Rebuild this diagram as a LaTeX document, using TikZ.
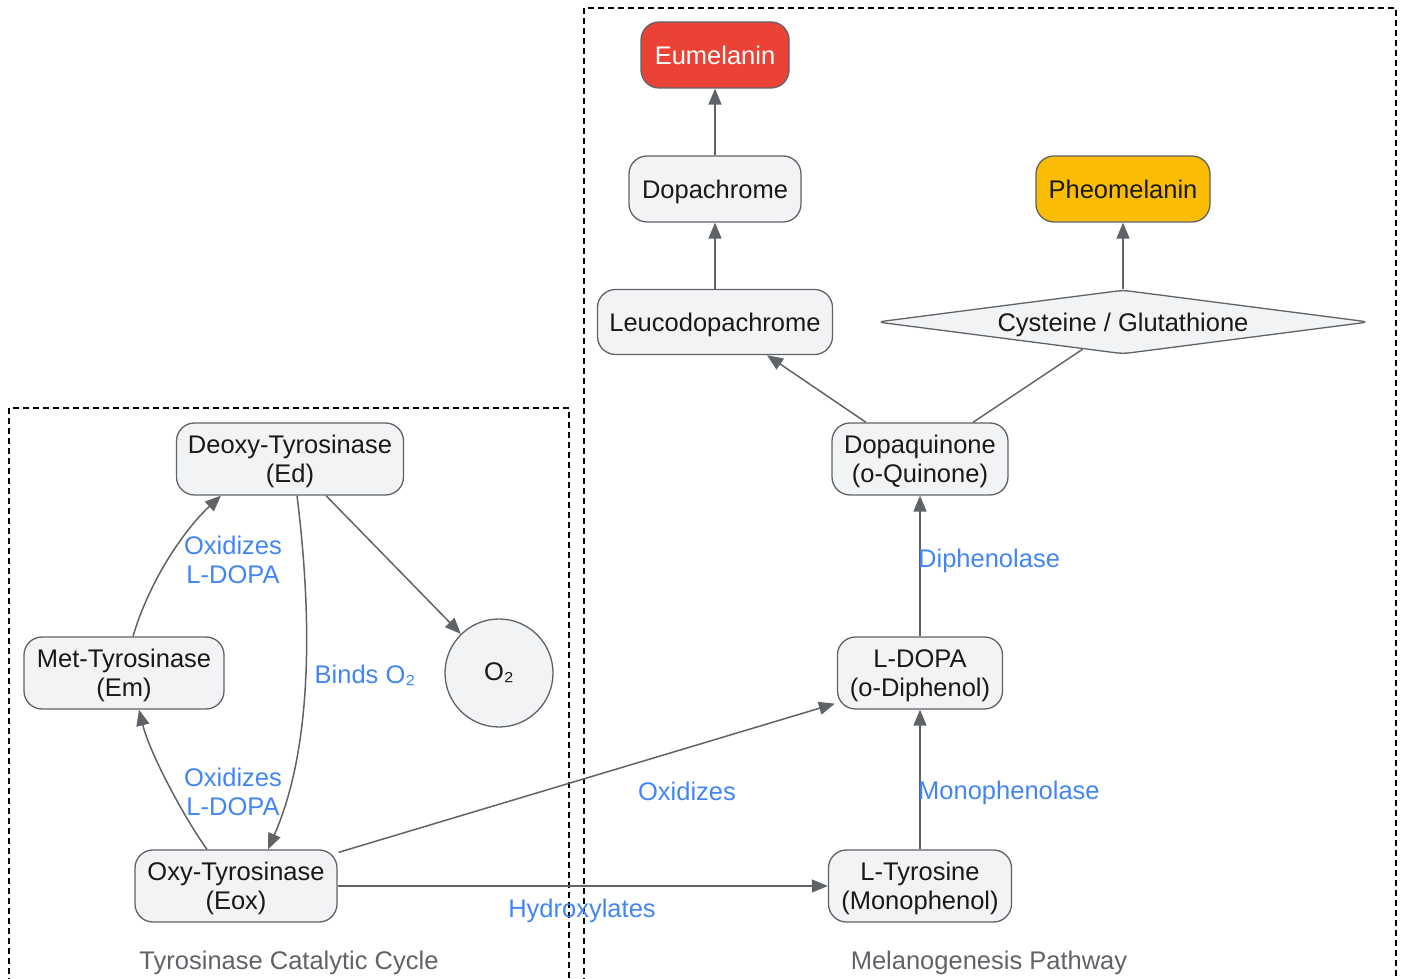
\documentclass[tikz,border=0pt]{standalone}
\usepackage{fontspec}
\setmainfont{Liberation Sans}
\usetikzlibrary{arrows.meta,shapes.geometric}
\definecolor{edgec}{HTML}{5F6368}
\definecolor{nodefill}{HTML}{F1F3F4}
\definecolor{lblue}{HTML}{4285F4}
\definecolor{eured}{HTML}{EA4335}
\definecolor{pheoy}{HTML}{FBBC04}
\definecolor{cltext}{HTML}{5F6368}
\begin{document}
\begin{tikzpicture}[x=1pt,y=1pt,
  font=\fontsize{25.5}{29}\selectfont,
  box/.style={draw=edgec, line width=1.3pt, fill=nodefill, rounded corners=18pt, align=center, inner sep=0pt, text depth=-3pt, text=black!90},
  twoline/.style={box, text depth=-7pt, minimum height=72pt},
  conn/.style={draw=edgec, line width=1.5pt, -{Triangle[length=16pt,width=13pt]}},
  plain/.style={draw=edgec, line width=1.5pt},
  elabel/.style={text=lblue, align=center, inner sep=0pt},
  cluster/.style={draw=black, line width=1.3pt, dash pattern=on 6pt off 4pt},
  cltitle/.style={text=cltext, inner sep=0pt}]
\useasboundingbox (0,0) rectangle (1405,979);
% clusters
\draw[cluster] (9,-5) -- (9,571) -- (569,571) -- (569,-5);
\draw[cluster] (584,-5) -- (584,971) -- (1396,971) -- (1396,-5);
\node[cltitle] (t1) at (289,16) {Tyrosinase Catalytic Cycle};
\node[cltitle] (t2) at (989,16) {Melanogenesis Pathway};
% nodes right
\node[box, fill=eured, text=white, minimum width=148pt, minimum height=66pt] (eu) at (715,924) {Eumelanin};
\node[box, minimum width=172pt, minimum height=66pt] (dc) at (715,790) {Dopachrome};
\node[box, fill=pheoy, minimum width=174pt, minimum height=66pt] (ph) at (1123,790) {Pheomelanin};
\node[box, minimum width=235pt, minimum height=65pt] (leuco) at (715,657) {Leucodopachrome};
\node[diamond, draw=edgec, line width=1.3pt, fill=nodefill, inner sep=0pt, shape aspect=7.6, minimum width=492pt, minimum height=64pt, rounded corners=7pt, text depth=-3pt, text=black!90] (cys) at (1123,657) {Cysteine / Glutathione};
\node[twoline, minimum width=176pt] (dq) at (920,520) {Dopaquinone\\(o-Quinone)};
\node[twoline, minimum width=165pt] (ldopa) at (920,306) {L-DOPA\\(o-Diphenol)};
\node[twoline, minimum width=183pt] (ltyr) at (920,93) {L-Tyrosine\\(Monophenol)};
% nodes left
\node[twoline, minimum width=227pt] (deoxy) at (290,520) {Deoxy-Tyrosinase\\(Ed)};
\node[twoline, minimum width=200pt] (met) at (124,306) {Met-Tyrosinase\\(Em)};
\node[twoline, minimum width=202pt] (oxy) at (236,93) {Oxy-Tyrosinase\\(Eox)};
\node[circle, draw=edgec, line width=1.3pt, fill=nodefill, minimum size=108pt, inner sep=0pt, text=black!90] (o2) at (499,306) {O₂};
% edges right
\draw[conn] (dc.north) -- (eu.south);
\draw[conn] (leuco.north) -- (dc.south);
\draw[conn] (cys.north) -- (ph.south);
\draw[conn] ([xshift=-54pt]dq.north) -- ([xshift=52pt]leuco.south);
\draw[plain] ([xshift=53pt]dq.north) -- (cys.214);
\draw[conn] (ldopa.north) -- (dq.south);
\draw[conn] (ltyr.north) -- (ldopa.south);
% edges left
\draw[conn] ([xshift=-29pt]oxy.north) .. controls (185,160) and (150,225) .. ([xshift=15pt]met.south);
\draw[conn] ([xshift=9pt]met.north) .. controls (150,400) and (185,450) .. ([xshift=-69pt]deoxy.south);
\draw[conn] ([xshift=7pt]deoxy.south) .. controls (310,379) and (316,239) .. ([xshift=32pt]oxy.north);
\draw[conn] ([xshift=36pt]deoxy.south) -- (o2);
\draw[conn] ([xshift=1pt,yshift=-3pt]oxy.north east) -- ([xshift=-2pt,yshift=6pt]ldopa.south west);
\draw[conn] (oxy.east) -- (ltyr.west);
% edge labels
\node[elabel] (l1) at (233,419) {Oxidizes\\L-DOPA};
\node[elabel] (l2) at (233,187) {Oxidizes\\L-DOPA};
\node[elabel] (l3) at (365,304) {Binds O₂};
\node[elabel] (l4) at (687,188) {Oxidizes};
\node[elabel] (l5) at (582,68) {Hydroxylates};
\node[elabel, anchor=west] (l6) at (918,418) {Diphenolase};
\node[elabel, anchor=west] (l7) at (918,186) {Monophenolase};
\end{tikzpicture}
\end{document}
